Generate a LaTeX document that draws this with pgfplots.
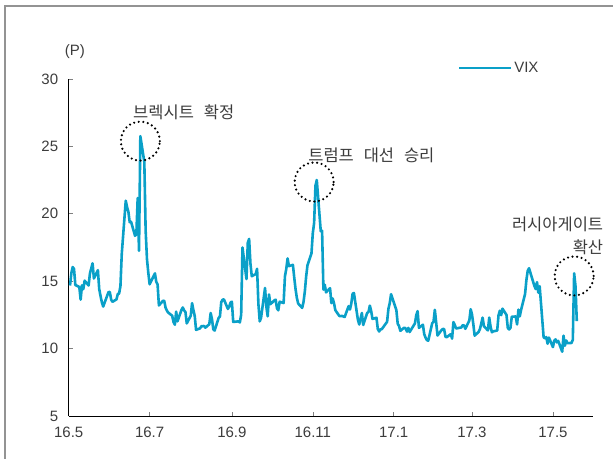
\documentclass[border=0pt]{standalone}
\usepackage{fontspec}
\setmainfont{Liberation Sans}
\newfontfamily\kr{Noto Sans CJK KR}
\usepackage{pgfplots}
\pgfplotsset{compat=1.18}
\definecolor{vix}{RGB}{10,160,200}
\definecolor{txt}{RGB}{60,60,60}
\newcommand{\ks}{\hspace{0.6em}}
\pgfplotstableread{
day vix
1 14.68
2 15.60
3 16.05
4 15.91
5 14.72
8 14.57
9 13.63
10 14.69
11 14.41
12 15.04
15 14.68
16 15.57
17 15.95
18 16.33
19 15.20
22 15.82
23 14.42
24 13.90
25 13.43
26 13.12
30 14.19
31 14.20
32 13.63
33 13.47
36 13.65
37 14.05
38 14.08
39 14.64
40 17.03
43 20.97
44 20.50
45 20.14
46 19.37
47 19.41
50 18.37
51 18.48
52 21.17
53 17.25
54 25.76
57 23.85
58 18.75
59 16.64
60 15.63
61 14.77
65 15.58
66 14.96
67 14.76
68 13.20
71 13.54
72 13.55
73 13.04
74 12.82
75 12.67
78 12.44
79 11.97
80 11.77
81 12.74
82 12.02
85 12.87
86 13.05
87 12.83
88 12.72
89 11.87
92 12.44
93 13.37
94 12.86
95 12.42
96 11.39
99 11.50
100 11.66
101 11.66
102 11.68
103 11.55
106 11.81
107 12.64
108 12.19
109 11.43
110 11.34
113 12.27
114 12.38
115 13.45
116 13.63
117 13.65
120 12.94
121 13.12
122 13.42
123 13.48
124 11.98
128 12.02
129 11.94
130 12.51
131 17.50
134 15.16
135 17.85
136 18.14
137 16.30
138 15.37
141 15.53
142 15.92
143 13.30
144 12.02
145 12.29
148 14.50
149 13.10
150 12.39
151 14.02
152 13.29
155 13.57
156 13.63
157 12.99
158 12.84
159 13.48
162 13.38
163 15.36
164 15.91
165 16.69
166 16.12
169 16.21
170 15.28
171 14.41
172 13.75
173 13.34
176 13.02
177 13.46
178 14.24
179 15.36
180 16.19
183 17.06
184 18.56
185 19.32
186 22.08
187 22.51
190 18.71
191 18.74
192 14.38
193 14.74
194 14.17
197 14.48
198 13.37
199 13.72
200 13.35
201 12.85
204 12.42
205 12.41
206 12.43
208 12.34
211 13.15
212 12.90
213 13.33
214 14.07
215 14.12
218 12.14
219 11.79
220 12.22
221 12.64
222 11.75
225 12.64
226 12.72
227 13.19
228 12.79
229 12.20
232 12.29
233 11.45
234 11.27
235 11.43
236 11.44
240 11.99
241 12.95
242 13.37
243 14.04
247 12.85
248 11.85
249 11.67
250 11.32
253 11.56
254 11.49
255 11.26
256 11.54
257 11.23
261 11.87
262 12.48
263 12.78
264 11.54
267 11.77
268 11.07
269 10.81
270 10.63
271 10.58
274 11.88
275 11.99
276 12.88
277 11.93
278 10.97
281 11.37
282 11.45
283 11.45
284 10.88
285 10.85
288 11.07
289 10.74
290 11.97
291 11.76
292 11.49
296 11.57
297 11.74
298 11.71
299 11.47
302 12.09
303 12.92
304 12.54
305 11.81
306 10.96
309 11.24
310 11.45
311 11.86
312 12.30
313 11.66
316 11.35
317 12.30
318 11.63
319 11.21
320 11.28
323 11.34
324 12.47
325 12.81
326 12.48
327 12.96
330 12.50
331 11.53
332 11.42
333 11.54
334 12.37
337 12.38
338 11.79
339 12.89
340 12.39
341 12.87
344 14.05
345 15.07
346 15.77
347 15.96
351 14.66
352 14.42
353 14.93
354 14.15
355 14.63
358 10.84
359 10.76
360 10.85
361 10.36
362 10.82
365 10.11
366 10.59
367 10.68
368 10.46
369 10.57
372 9.77
373 10.96
374 10.21
375 10.60
376 10.40
379 10.42
380 10.65
381 15.59
382 14.66
383 12.04
}\vixdata
\begin{document}
\begin{tikzpicture}[x=1bp,y=1bp]
\useasboundingbox (0,0) rectangle (613,459);
\draw[gray!85, line width=2bp] (4.7,0) -- (4.7,453) -- (613,453);
\begin{axis}[
  at={(68.7bp,43bp)}, anchor=south west,
  width=524bp, height=337bp, scale only axis,
  xmin=0, xmax=395, ymin=5, ymax=30,
  axis lines=left,
  axis line style={-, black, line width=0.8bp},
  tick align=inside,
  major tick length=4bp,
  tick style={gray, line width=0.6bp},
  xtick={0,61,123,184,245,304,365},
  xticklabels={16.5,16.7,16.9,16.11,17.1,17.3,17.5},
  ytick={5,10,15,20,25,30},
  /pgf/number format/assume math mode=true,
  tick label style={font=\fontsize{15bp}{17bp}\selectfont, text=txt},
  xticklabel style={yshift=-8bp},
  yticklabel style={xshift=-7bp},
  ylabel={(P)},
  ylabel style={rotate=-90, at={(axis description cs:0.012,1.08)}, anchor=center, font=\fontsize{15bp}{17bp}\selectfont, text=txt},
  legend style={draw=none, fill=none, at={(axis description cs:0.742,1.033)}, anchor=west,
    font=\fontsize{15bp}{17bp}\selectfont, text=txt, inner sep=0pt},
  legend image code/.code={\draw[#1] (0bp,0bp) -- (52bp,0bp);},
  clip=false,
]
\addplot[vix, line width=2.6bp, line join=round, no marks] table[x=day, y=vix] {\vixdata};
\addlegendentry{VIX}
\begin{scope}[black, line width=2.4bp, dash pattern=on 0bp off 4.6bp, line cap=round]
\draw (axis cs:54,25.39) circle[radius=19.5bp];
\draw (axis cs:185,22.36) circle[radius=19.5bp];
\draw (axis cs:381,15.39) circle[radius=19.5bp];
\end{scope}
\node[anchor=west, inner sep=0pt, text=txt, font=\kr\fontsize{16.5bp}{19bp}\selectfont] at (axis cs:48.5,27.55) {브렉시트\ks 확정};
\node[anchor=west, inner sep=0pt, text=txt, font=\kr\fontsize{16.5bp}{19bp}\selectfont] at (axis cs:180.5,24.36) {트럼프\ks 대선\ks 승리};
\node[anchor=east, inner sep=0pt, text=txt, font=\kr\fontsize{16.5bp}{19bp}\selectfont] at (axis cs:403,19.24) {러시아게이트};
\node[anchor=east, inner sep=0pt, text=txt, font=\kr\fontsize{16.5bp}{19bp}\selectfont] at (axis cs:403,17.54) {확산};
\end{axis}
\end{tikzpicture}
\end{document}
